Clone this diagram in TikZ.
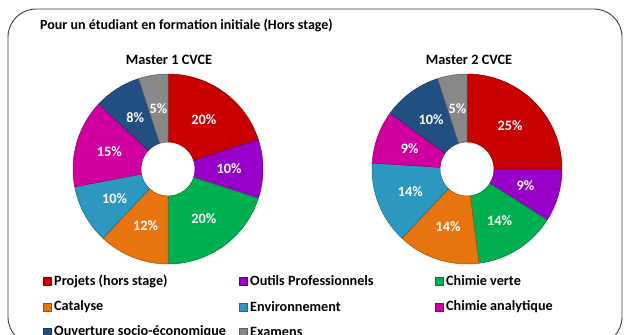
\documentclass[tikz,border=0pt]{standalone}
\usepackage{fontspec}
\setmainfont{Carlito}
\definecolor{cRed}{RGB}{200,0,0}
\definecolor{cPurple}{RGB}{150,0,200}
\definecolor{cGreen}{RGB}{0,176,80}
\definecolor{cOrange}{RGB}{232,116,16}
\definecolor{cCyan}{RGB}{44,152,192}
\definecolor{cMagenta}{RGB}{208,0,160}
\definecolor{cNavy}{RGB}{34,78,130}
\definecolor{cGray}{RGB}{136,136,136}
\definecolor{cFrame}{RGB}{60,60,60}
\tikzset{
  frame/.style={draw=cFrame, line width=0.9pt, rounded corners=28pt},
  maintitle/.style={font=\bfseries\fontsize{14}{16}\selectfont, anchor=west, inner sep=0pt},
  charttitle/.style={font=\bfseries\fontsize{14.3}{16}\selectfont, inner sep=0pt},
  pct/.style={font=\bfseries\fontsize{14.3}{16}\selectfont, text=white, inner sep=0pt},
  legtext/.style={font=\bfseries\fontsize{14.2}{16}\selectfont, anchor=west, inner sep=0pt},
  legmark/.style={minimum size=8pt, inner sep=0pt},
}
\newcommand\mydonut[3]{%
  \foreach \c/\p/\col [count=\i] in {#2} {
    \pgfmathsetmacro\sa{90-3.6*\c}
    \pgfmathsetmacro\ea{90-3.6*(\c+\p)}
    \pgfmathsetmacro\ma{(\sa+\ea)/2}
    \filldraw[fill=\col, draw=\col!70!black, line width=0.5pt]
      ([shift={(\sa:95)}]#1) arc[start angle=\sa, end angle=\ea, radius=95]
      -- ([shift={(\ea:27)}]#1) arc[start angle=\ea, end angle=\sa, radius=27] -- cycle;
    \node[pct] (#3-\i) at ([shift={(\ma:61)}]#1) {\p\%};
  }%
}
\begin{document}
\begin{tikzpicture}[x=1pt,y=1pt]
\useasboundingbox (0,0) rectangle (625,-335);
\clip (0,0) rectangle (625,-335);
\fill[white] (0,0) rectangle (625,-335);
\draw[frame] (8,-9) rectangle (622,-345);
\node[maintitle] (title) at (40,-25) {Pour un étudiant en formation initiale (Hors stage)};
\node[charttitle] (t1) at (169,-60) {Master 1 CVCE};
\node[charttitle] (t2) at (469,-60) {Master 2 CVCE};
\coordinate (c1) at (168,-169);
\coordinate (c2) at (467,-169);
\mydonut{c1}{0/20/cRed,20/10/cPurple,30/20/cGreen,50/12/cOrange,62/10/cCyan,72/15/cMagenta,87/8/cNavy,95/5/cGray}{a}
\mydonut{c2}{0/25/cRed,25/9/cPurple,34/14/cGreen,48/14/cOrange,62/14/cCyan,76/9/cMagenta,85/10/cNavy,95/5/cGray}{b}
% legend
\foreach \x/\y/\col/\txt [count=\i] in {
  47/-281/cRed/Projets (hors stage),
  243/-281/cPurple/Outils Professionnels,
  439/-281/cGreen/Chimie verte,
  47/-307/cOrange/Catalyse,
  243/-307/cCyan/Environnement,
  439/-307/cMagenta/Chimie analytique,
  47/-332/cNavy/Ouverture socio-économique,
  243/-332/cGray/Examens} {
  \node[legmark, fill=\col, draw=\col!70!black, line width=0.4pt] (m\i) at (\x,\y) {};
  \node[legtext] (l\i) at (\x+7,\y) {\txt};
}
\end{tikzpicture}
\end{document}
